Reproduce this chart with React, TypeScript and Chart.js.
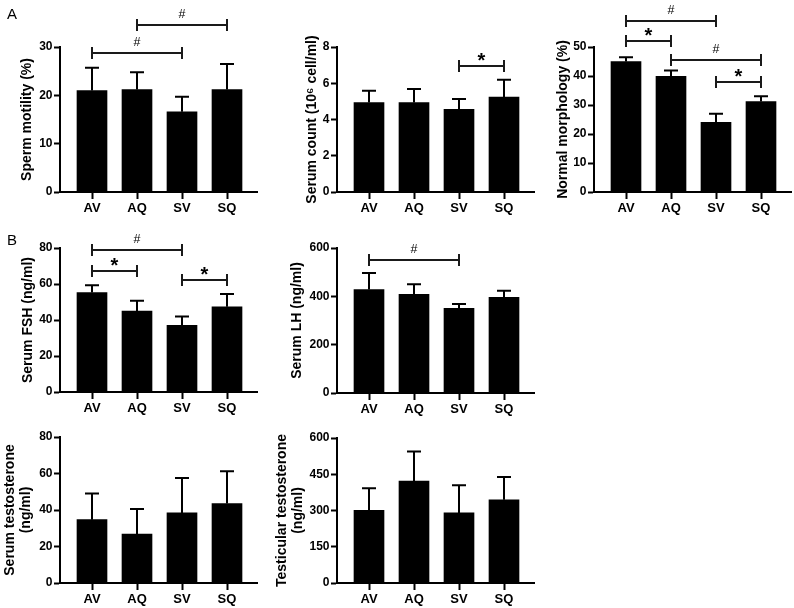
import React, { useEffect, useRef } from 'react';
import { Chart, registerables } from 'chart.js';

Chart.register(...registerables);

const FONT = '"Liberation Sans", Arial, Helvetica, sans-serif';
Chart.defaults.font.family = FONT;

// ---------------- data ----------------
const categories = ['AV', 'AQ', 'SV', 'SQ'];

const motilityMean = [21.0, 21.2, 16.6, 21.2];
const motilitySD = [4.7, 3.6, 3.1, 5.3];

const countMean = [4.94, 4.94, 4.56, 5.24];
const countSD = [0.64, 0.74, 0.57, 0.95];

const morphMean = [45.0, 39.9, 24.0, 31.2];
const morphSD = [1.5, 2.0, 3.0, 1.8];

const fshMean = [55.3, 45.0, 37.1, 47.3];
const fshSD = [4.0, 5.7, 4.9, 7.2];

const lhMean = [428, 408, 350, 396];
const lhSD = [69, 42, 18, 27];

const serumTMean = [34.7, 26.8, 38.4, 43.5];
const serumTSD = [14.3, 13.7, 19.1, 17.7];

const testTMean = [301, 422, 290, 344];
const testTSD = [91, 122, 115, 95];

type Bracket = { from: number; to: number; level: number; mark: string };

const motilityBrackets: Bracket[] = [
  { from: 0, to: 2, level: 28.8, mark: '#' },
  { from: 1, to: 3, level: 34.5, mark: '#' },
];
const countBrackets: Bracket[] = [{ from: 2, to: 3, level: 6.95, mark: '*' }];
const morphBrackets: Bracket[] = [
  { from: 0, to: 2, level: 58.8, mark: '#' },
  { from: 0, to: 1, level: 51.9, mark: '*' },
  { from: 1, to: 3, level: 45.6, mark: '#' },
  { from: 2, to: 3, level: 38.1, mark: '*' },
];
const fshBrackets: Bracket[] = [
  { from: 0, to: 2, level: 79.1, mark: '#' },
  { from: 0, to: 1, level: 67.1, mark: '*' },
  { from: 2, to: 3, level: 62.5, mark: '*' },
];
const lhBrackets: Bracket[] = [{ from: 0, to: 2, level: 550, mark: '#' }];

// ---------------- layout ----------------
const FIRST_OFFSET = 32;
const STEP = 45;
const AXIS_LEN = 197;

interface PanelSpec {
  key: string;
  title: string | string[];
  mean: number[];
  sd: number[];
  yMax: number;
  yStep: number;
  brackets: Bracket[];
  box: { left: number; top: number; width: number; height: number };
  axisX: number;
  plotTop: number;
  plotBottom: number;
  titlePad: number;
}

const panels: PanelSpec[] = [
  {
    key: 'motility', title: 'Sperm motility (%)', mean: motilityMean, sd: motilitySD,
    yMax: 30, yStep: 10, brackets: motilityBrackets,
    box: { left: 0, top: 0, width: 262, height: 222 }, axisX: 60, plotTop: 47, plotBottom: 192, titlePad: 19,
  },
  {
    key: 'count', title: 'Serum count (10\u2076 cell/ml)', mean: countMean, sd: countSD,
    yMax: 8, yStep: 2, brackets: countBrackets,
    box: { left: 265, top: 0, width: 275, height: 222 }, axisX: 337, plotTop: 47, plotBottom: 192, titlePad: 39,
  },
  {
    key: 'morph', title: 'Normal morphology (%)', mean: morphMean, sd: morphSD,
    yMax: 50, yStep: 10, brackets: morphBrackets,
    box: { left: 540, top: 0, width: 254, height: 222 }, axisX: 594, plotTop: 47, plotBottom: 192, titlePad: 15,
  },
  {
    key: 'fsh', title: 'Serum FSH (ng/ml)', mean: fshMean, sd: fshSD,
    yMax: 80, yStep: 20, brackets: fshBrackets,
    box: { left: 0, top: 222, width: 262, height: 200 }, axisX: 60, plotTop: 248, plotBottom: 392, titlePad: 20,
  },
  {
    key: 'lh', title: 'Serum LH (ng/ml)', mean: lhMean, sd: lhSD,
    yMax: 600, yStep: 200, brackets: lhBrackets,
    box: { left: 265, top: 222, width: 275, height: 200 }, axisX: 337, plotTop: 248, plotBottom: 393, titlePad: 24,
  },
  {
    key: 'serumT', title: ['Serum testosterone', '(ng/ml)'], mean: serumTMean, sd: serumTSD,
    yMax: 80, yStep: 20, brackets: [],
    box: { left: 0, top: 422, width: 262, height: 186 }, axisX: 60, plotTop: 437, plotBottom: 583, titlePad: 2.5,
  },
  {
    key: 'testT', title: ['Testicular testosterone', '(ng/ml)'], mean: testTMean, sd: testTSD,
    yMax: 600, yStep: 150, brackets: [],
    box: { left: 265, top: 422, width: 275, height: 186 }, axisX: 337, plotTop: 438, plotBottom: 583, titlePad: 9,
  },
];

function Panel({ spec }: { spec: PanelSpec }) {
  const ref = useRef<HTMLCanvasElement>(null);

  useEffect(() => {
    const s = spec;
    if (!ref.current) return;
    const plotRight = s.axisX + AXIS_LEN;
    const xMin = -FIRST_OFFSET / STEP;
    const xMax = (AXIS_LEN - FIRST_OFFSET) / STEP;
    const multi = Array.isArray(s.title);

    const overlay = {
      id: 'overlay-' + s.key,
      afterDatasetsDraw(chart: any) {
        const ctx = chart.ctx as CanvasRenderingContext2D;
        const xs = chart.scales.x;
        const ys = chart.scales.y;
        ctx.save();
        ctx.strokeStyle = '#000';
        ctx.lineWidth = 2;
        ctx.lineCap = 'butt';
        s.mean.forEach((m, i) => {
          const x = xs.getPixelForValue(i);
          const y0 = ys.getPixelForValue(m);
          const y1 = ys.getPixelForValue(m + s.sd[i]);
          ctx.beginPath();
          ctx.moveTo(x, y0);
          ctx.lineTo(x, y1);
          ctx.moveTo(x - 7, y1);
          ctx.lineTo(x + 7, y1);
          ctx.stroke();
        });
        s.brackets.forEach((b) => {
          const x0 = xs.getPixelForValue(b.from);
          const x1 = xs.getPixelForValue(b.to);
          const y = Math.round(ys.getPixelForValue(b.level));
          ctx.strokeStyle = '#1a1a1a';
          ctx.lineWidth = 2;
          ctx.beginPath();
          ctx.moveTo(x0, y);
          ctx.lineTo(x1, y);
          ctx.moveTo(x0, y - 6);
          ctx.lineTo(x0, y + 6);
          ctx.moveTo(x1, y - 6);
          ctx.lineTo(x1, y + 6);
          ctx.stroke();
          ctx.fillStyle = '#000';
          ctx.textAlign = 'center';
          ctx.textBaseline = 'alphabetic';
          const cx = (x0 + x1) / 2;
          if (b.mark === '*') {
            ctx.font = `bold 20px ${FONT}`;
            ctx.fillText('*', cx, y + 0.5);
          } else {
            ctx.font = `12.5px ${FONT}`;
            ctx.fillText('#', cx, y - 7.5);
          }
        });
        ctx.restore();
      },
    };

    const chart = new Chart(ref.current, {
      type: 'bar',
      data: {
        datasets: [
          {
            data: s.mean.map((v, i) => ({ x: i, y: v })),
            backgroundColor: '#000',
            borderWidth: 0,
            barThickness: 30,
          } as any,
        ],
      },
      options: {
        animation: false,
        responsive: false,
        devicePixelRatio: 1,
        layout: {
          padding: {
            top: s.plotTop - s.box.top,
            right: s.box.left + s.box.width - plotRight,
            left: 0,
            bottom: 0,
          },
        },
        plugins: { legend: { display: false }, tooltip: { enabled: false } },
        scales: {
          x: {
            type: 'linear',
            min: xMin,
            max: xMax,
            bounds: 'data',
            offset: false,
            afterBuildTicks: (sc: any) => {
              sc.ticks = categories.map((_, i) => ({ value: i }));
            },
            afterFit: (sc: any) => {
              sc.height = s.box.top + s.box.height - s.plotBottom;
            },
            grid: {
              display: true,
              drawOnChartArea: false,
              drawTicks: true,
              tickLength: 7,
              tickWidth: 2,
              tickColor: '#000',
              offset: false,
            },
            border: { display: true, color: '#000', width: 2 },
            ticks: {
              autoSkip: false,
              maxRotation: 0,
              minRotation: 0,
              padding: 2,
              color: '#000',
              font: { family: FONT, size: 13, weight: 'bold' },
              callback: (v: any) => categories[Number(v)] ?? '',
            },
          },
          y: {
            type: 'linear',
            min: 0,
            max: s.yMax,
            afterFit: (sc: any) => {
              sc.width = s.axisX - s.box.left;
            },
            grid: {
              display: true,
              drawOnChartArea: false,
              drawTicks: true,
              tickLength: 6,
              tickWidth: 2,
              tickColor: '#000',
            },
            border: { display: true, color: '#000', width: 2 },
            ticks: {
              stepSize: s.yStep,
              padding: 1.5,
              color: '#000',
              font: { family: FONT, size: 12, weight: 'bold' },
            },
            title: {
              display: true,
              text: s.title,
              color: '#000',
              font: { family: FONT, size: 14, weight: 'bold', lineHeight: multi ? 1.143 : 1.25 },
              padding: { top: multi ? s.titlePad : s.titlePad - 0.6, bottom: 0 },
            },
          },
        },
      } as any,
      plugins: [overlay],
    });

    return () => chart.destroy();
  }, [spec]);

  return (
    <canvas
      ref={ref}
      width={spec.box.width}
      height={spec.box.height}
      style={{ position: 'absolute', left: spec.box.left, top: spec.box.top, width: spec.box.width, height: spec.box.height }}
    />
  );
}

export default function App() {
  const letterStyle: React.CSSProperties = {
    position: 'absolute',
    fontFamily: FONT,
    fontSize: 15,
    lineHeight: '17px',
    color: '#000',
  };
  return (
    <div style={{ position: 'absolute', left: 0, top: 0, width: 794, height: 608, background: '#fff', overflow: 'hidden' }}>
      {panels.map((p) => (
        <Panel key={p.key} spec={p} />
      ))}
      <div style={{ ...letterStyle, left: 7, top: 5 }}>A</div>
      <div style={{ ...letterStyle, left: 7, top: 231 }}>B</div>
    </div>
  );
}
